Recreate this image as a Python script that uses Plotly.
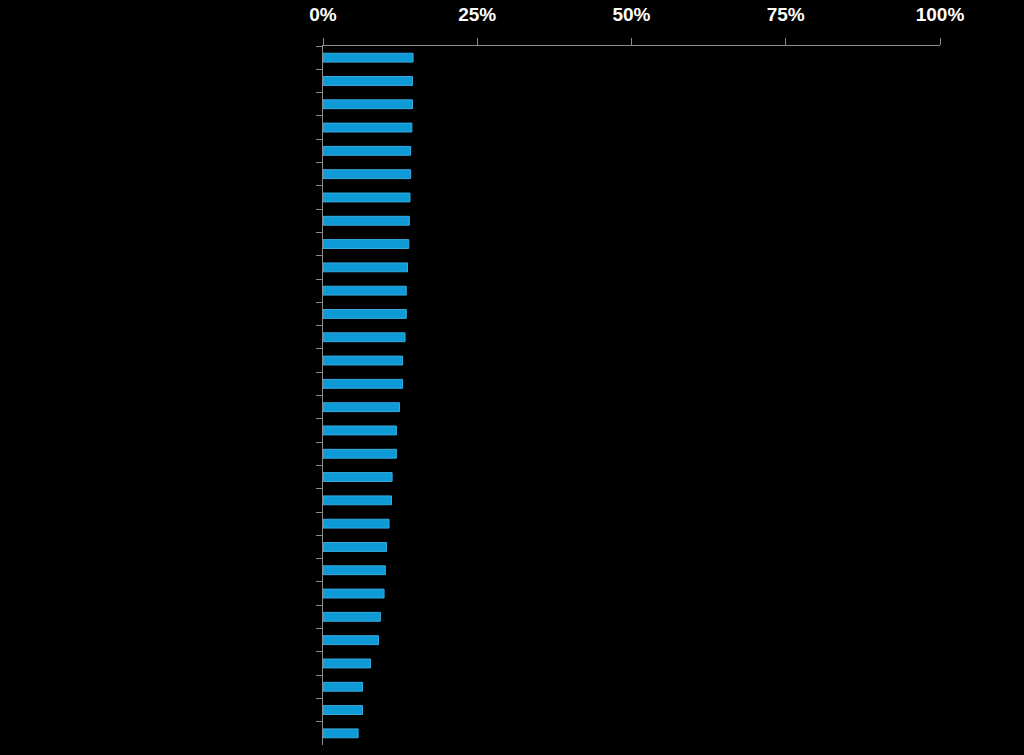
import plotly.graph_objects as go

categories = [f"Item {i}" for i in range(1, 31)]
values = [14.6, 14.5, 14.5, 14.4, 14.2, 14.2, 14.1, 14.0, 13.9, 13.7,
          13.5, 13.5, 13.3, 12.9, 12.9, 12.4, 11.9, 11.9, 11.2, 11.1,
          10.7, 10.3, 10.1, 9.9, 9.3, 9.0, 7.7, 6.4, 6.4, 5.7]
x_ticks = [0, 25, 50, 75, 100]
x_tick_labels = ["0%", "25%", "50%", "75%", "100%"]

fig = go.Figure(go.Bar(
    x=values, y=categories, orientation="h",
    marker=dict(color="#0e9ad6", line=dict(color="#35ace0", width=1)),
    hoverinfo="skip",
))

fig.update_layout(
    width=1024, height=755,
    margin=dict(l=323, r=84, t=46, b=10),
    paper_bgcolor="black", plot_bgcolor="black",
    bargap=0.62, showlegend=False,
)
fig.update_xaxes(
    side="top", range=[0, 100], tickvals=x_ticks, ticktext=x_tick_labels,
    automargin=False,
    showgrid=False, zeroline=False, showline=True, linecolor="#8c8c8c", linewidth=1,
    ticks="outside", ticklen=7, tickcolor="#8c8c8c", ticklabelstandoff=9,
    tickfont=dict(family="Liberation Sans", size=19, color="white", weight="bold"),
)
fig.update_yaxes(
    autorange="reversed", showticklabels=False, showgrid=False, zeroline=False,
    automargin=False,
    showline=True, linecolor="#8c8c8c", linewidth=1,
    ticks="outside", ticklen=6, tickcolor="#8c8c8c", tickson="boundaries",
)

fig.write_html("out.html")
